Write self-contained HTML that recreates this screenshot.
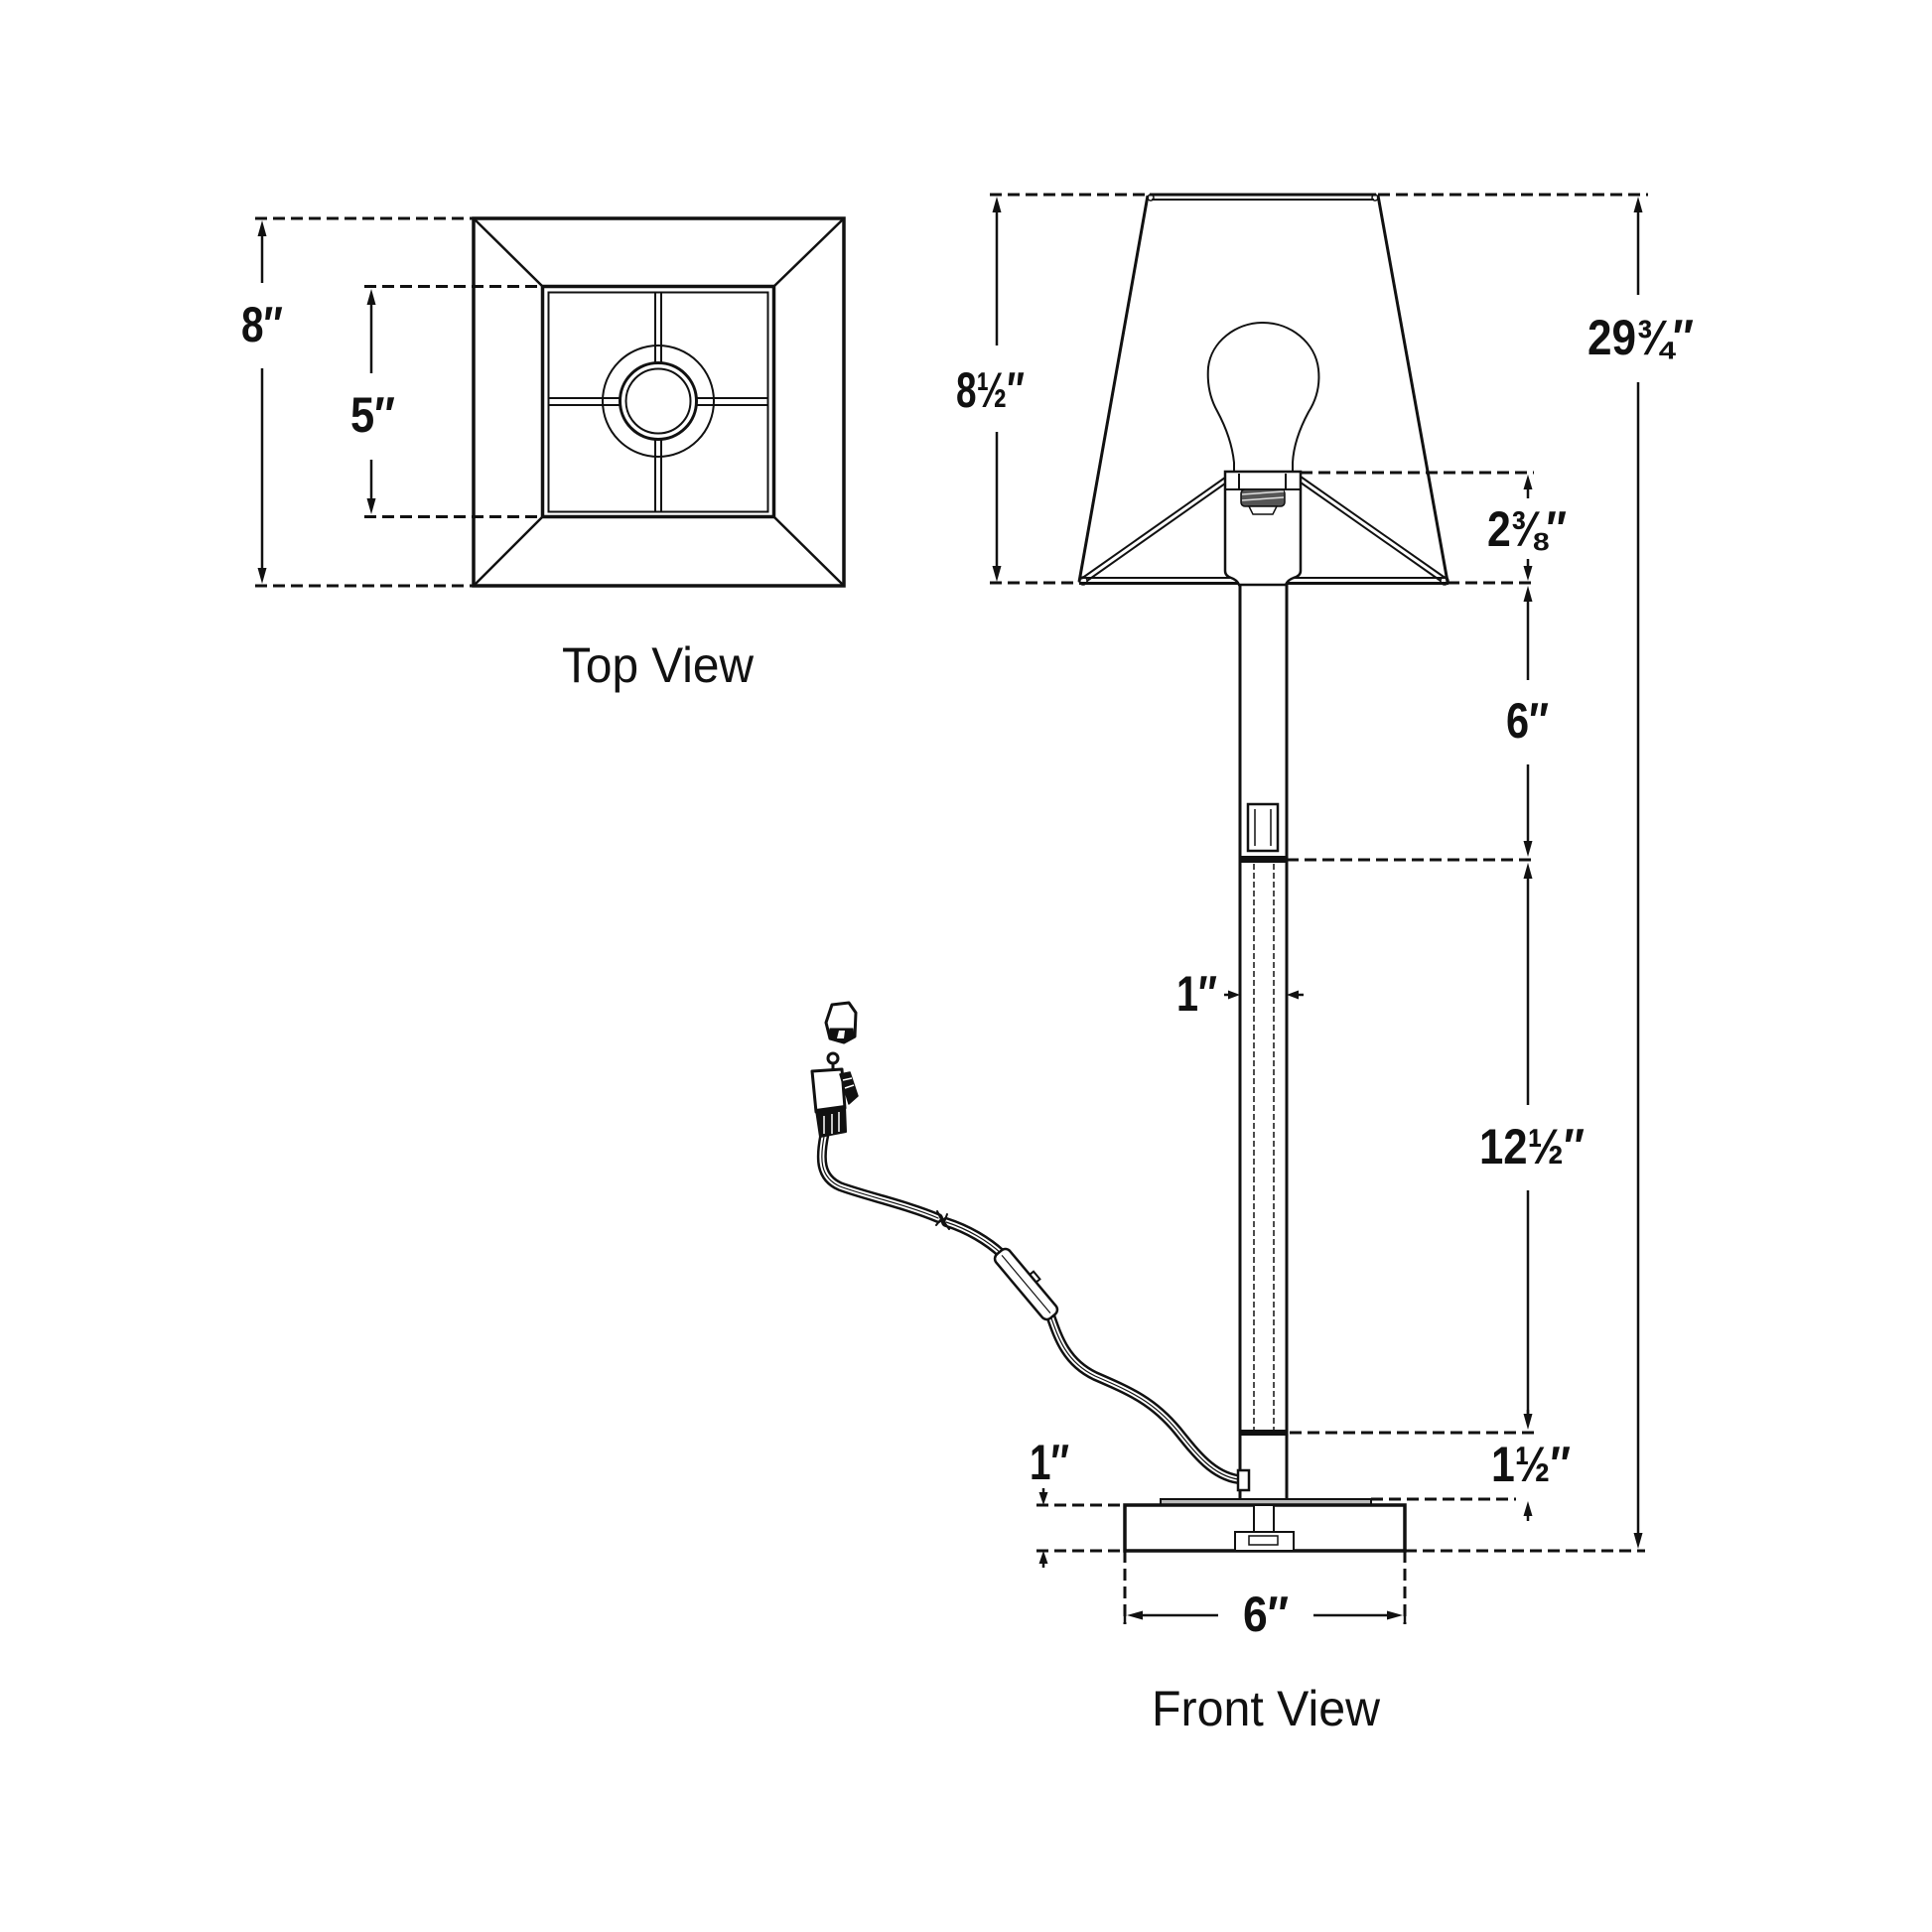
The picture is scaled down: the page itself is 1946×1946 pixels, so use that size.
<!DOCTYPE html>
<html>
<head>
<meta charset="utf-8">
<style>
  html,body{margin:0;padding:0;background:#fff;}
  svg{display:block;}
  .d{font-family:"Liberation Sans","DejaVu Sans",sans-serif;font-weight:bold;font-size:50px;fill:#111;}
  .t{font-family:"Liberation Sans","DejaVu Sans",sans-serif;font-weight:normal;font-size:50px;fill:#111;}
</style>
</head>
<body>
<svg width="1946" height="1946" viewBox="0 0 1946 1946" xmlns="http://www.w3.org/2000/svg">
<rect width="1946" height="1946" fill="#fff"/>

<!-- ================= TOP VIEW ================= -->
<g stroke="#111" fill="none">
  <rect x="477" y="220" width="373" height="370" stroke-width="3.5"/>
  <line x1="477" y1="220" x2="546.5" y2="288.5" stroke-width="2.5"/>
  <line x1="850" y1="220" x2="779.5" y2="288.5" stroke-width="2.5"/>
  <line x1="477" y1="590" x2="546.5" y2="520.5" stroke-width="2.5"/>
  <line x1="850" y1="590" x2="779.5" y2="520.5" stroke-width="2.5"/>
  <rect x="546.5" y="288.5" width="233" height="232" stroke-width="3.5"/>
  <rect x="552.5" y="294.5" width="221" height="221" stroke-width="2"/>
  <line x1="660" y1="294" x2="660" y2="516" stroke-width="2"/>
  <line x1="666" y1="294" x2="666" y2="516" stroke-width="2"/>
  <line x1="552" y1="401" x2="774" y2="401" stroke-width="2"/>
  <line x1="552" y1="408" x2="774" y2="408" stroke-width="2"/>
  <circle cx="663" cy="404" r="56" stroke-width="2"/>
  <circle cx="663" cy="404" r="38.5" stroke-width="3" fill="#fff"/>
  <circle cx="663" cy="404" r="32.5" stroke-width="2"/>
</g>

<g stroke="#111" stroke-width="3" stroke-dasharray="12 6" fill="none">
  <line x1="257" y1="220" x2="477" y2="220"/>
  <line x1="257" y1="590" x2="477" y2="590"/>
  <line x1="367" y1="288.5" x2="546" y2="288.5"/>
  <line x1="367" y1="520.5" x2="546" y2="520.5"/>
</g>
<g stroke="#111" stroke-width="2.5">
  <line x1="264" y1="230" x2="264" y2="285"/>
  <line x1="264" y1="371" x2="264" y2="580"/>
  <line x1="374" y1="298" x2="374" y2="376"/>
  <line x1="374" y1="463" x2="374" y2="511"/>
</g>
<g fill="#111">
  <polygon points="264,222 259.5,238 268.5,238"/>
  <polygon points="264,588 259.5,572 268.5,572"/>
  <polygon points="374,291 369.5,307 378.5,307"/>
  <polygon points="374,518 369.5,502 378.5,502"/>
</g>
<text class="d" x="243" y="344" textLength="42" lengthAdjust="spacingAndGlyphs">8″</text>
<text class="d" x="353" y="435" textLength="45" lengthAdjust="spacingAndGlyphs">5″</text>
<text class="t" x="566" y="687" textLength="193" lengthAdjust="spacingAndGlyphs">Top View</text>

<!-- ================= FRONT VIEW ================= -->
<g stroke="#111" stroke-width="3" stroke-dasharray="12 6" fill="none">
  <line x1="997" y1="196" x2="1156" y2="196"/>
  <line x1="1388" y1="196" x2="1660" y2="196"/>
  <line x1="997" y1="587" x2="1087" y2="587"/>
  <line x1="1458" y1="587" x2="1545" y2="587"/>
  <line x1="1310" y1="476" x2="1545" y2="476"/>
  <line x1="1296" y1="866" x2="1545" y2="866"/>
  <line x1="1299" y1="1443" x2="1545" y2="1443"/>
  <line x1="1381" y1="1510" x2="1527" y2="1510"/>
  <line x1="1044" y1="1516" x2="1133" y2="1516"/>
  <line x1="1044" y1="1562" x2="1133" y2="1562"/>
  <line x1="1415" y1="1562" x2="1657" y2="1562"/>
  <line x1="1133" y1="1562" x2="1133" y2="1636"/>
  <line x1="1415" y1="1562" x2="1415" y2="1636"/>
</g>

<!-- shade -->
<g stroke="#111" fill="none">
  <line x1="1156" y1="197" x2="1087" y2="586" stroke-width="3"/>
  <line x1="1388" y1="197" x2="1458" y2="586" stroke-width="3"/>
  <line x1="1158" y1="196" x2="1386" y2="196" stroke-width="3"/>
  <line x1="1160" y1="201" x2="1384" y2="201" stroke-width="2"/>
  <circle cx="1159" cy="199" r="3" stroke-width="1.5"/>
  <circle cx="1385" cy="199" r="3" stroke-width="1.5"/>
  <line x1="1090" y1="582" x2="1456" y2="582" stroke-width="2"/>
  <line x1="1087" y1="587.5" x2="1459" y2="587.5" stroke-width="3"/>
  <circle cx="1091" cy="585" r="4" stroke-width="1.5"/>
  <circle cx="1455" cy="585" r="4" stroke-width="1.5"/>
  <line x1="1234" y1="481" x2="1089" y2="583" stroke-width="2"/>
  <line x1="1234" y1="487" x2="1095" y2="585" stroke-width="2"/>
  <line x1="1310" y1="480" x2="1457" y2="583" stroke-width="2"/>
  <line x1="1310" y1="486" x2="1451" y2="585" stroke-width="2"/>
</g>

<!-- bulb -->
<path d="M1243,476 L1243,466 C1241,446 1233,427 1226,414 C1217,398 1216,383 1217,370 C1220,344 1245,325 1272,325 C1300,325 1325,345 1328,372 C1330,390 1325,404 1318,415 C1311,428 1303,446 1302,466 L1302,476" fill="#fff" stroke="#111" stroke-width="2"/>

<!-- socket -->
<g stroke="#111" fill="#fff">
  <path d="M1234,475 L1310,475 L1310,575 Q1310,580 1303,582 Q1297,584 1295,589 L1248,589 Q1246,584 1240,582 Q1234,580 1234,575 Z" stroke-width="2.5"/>
  <line x1="1234" y1="493" x2="1310" y2="493" stroke-width="2"/>
  <line x1="1248" y1="477" x2="1248" y2="493" stroke-width="2"/>
  <line x1="1295" y1="477" x2="1295" y2="493" stroke-width="2"/>
  <rect x="1250" y="493" width="44" height="17" rx="4" fill="#555" stroke-width="1.5"/>
  <line x1="1251" y1="498" x2="1293" y2="495" stroke="#ddd" stroke-width="1.5"/>
  <line x1="1251" y1="504" x2="1293" y2="501" stroke="#ddd" stroke-width="1.5"/>
  <path d="M1258,510 L1286,510 L1282,518 L1262,518 Z" stroke-width="1.5"/>
</g>

<!-- stem -->
<g stroke="#111" fill="none">
  <line x1="1249" y1="589" x2="1249" y2="1510" stroke-width="3"/>
  <line x1="1296" y1="589" x2="1296" y2="1510" stroke-width="3"/>
  <rect x="1257" y="810" width="30" height="47" stroke-width="2.5" fill="#fff"/>
  <line x1="1264" y1="815" x2="1264" y2="852" stroke-width="1.5"/>
  <line x1="1280" y1="815" x2="1280" y2="852" stroke-width="1.5"/>
  <line x1="1263" y1="870" x2="1263" y2="1440" stroke-width="1.5" stroke-dasharray="6 3"/>
  <line x1="1283" y1="870" x2="1283" y2="1440" stroke-width="1.5" stroke-dasharray="6 3"/>
</g>
<rect x="1249" y="862" width="47" height="7" fill="#111"/>
<rect x="1249" y="1440" width="47" height="6" fill="#111"/>

<!-- base -->
<g stroke="#111">
  <rect x="1169" y="1510" width="212" height="6" fill="#bbb" stroke-width="2"/>
  <rect x="1133" y="1516" width="282" height="46" fill="none" stroke-width="3.5"/>
  <rect x="1263" y="1516" width="20" height="27" fill="#fff" stroke-width="2"/>
  <rect x="1244" y="1543" width="59" height="19" fill="#fff" stroke-width="2"/>
  <rect x="1258" y="1547" width="29" height="9" fill="#fff" stroke-width="1.5"/>
</g>

<!-- cord -->
<g fill="none" stroke-linecap="round" stroke-linejoin="round">
  <path d="M831,1140 C825,1168 826,1186 846,1195 C870,1204 915,1214 945,1227" stroke="#111" stroke-width="10"/>
  <path d="M831,1140 C825,1168 826,1186 846,1195 C870,1204 915,1214 945,1227" stroke="#fff" stroke-width="5"/>
  <path d="M831,1140 C825,1168 826,1186 846,1195 C870,1204 915,1214 945,1227" stroke="#111" stroke-width="1.2"/>
  <path d="M953,1231 C975,1238 995,1250 1009,1263" stroke="#111" stroke-width="10"/>
  <path d="M953,1231 C975,1238 995,1250 1009,1263" stroke="#fff" stroke-width="5"/>
  <path d="M953,1231 C975,1238 995,1250 1009,1263" stroke="#111" stroke-width="1.2"/>
  <path d="M1058,1325 C1066,1348 1074,1372 1103,1386 C1140,1402 1162,1412 1186,1441 C1206,1466 1222,1486 1247,1490" stroke="#111" stroke-width="10"/>
  <path d="M1058,1325 C1066,1348 1074,1372 1103,1386 C1140,1402 1162,1412 1186,1441 C1206,1466 1222,1486 1247,1490" stroke="#fff" stroke-width="5"/>
  <path d="M1058,1325 C1066,1348 1074,1372 1103,1386 C1140,1402 1162,1412 1186,1441 C1206,1466 1222,1486 1247,1490" stroke="#111" stroke-width="1.2"/>
  <path d="M944,1220 L948,1228 L943,1234" stroke="#111" stroke-width="2"/>
  <path d="M954,1223 L951,1231 L956,1238" stroke="#111" stroke-width="2"/>
</g>
<g transform="translate(1033.5,1293.5) rotate(50)" stroke="#111" fill="#fff">
  <rect x="-5" y="-14" width="10" height="6" stroke-width="2"/>
  <rect x="-42" y="-9" width="84" height="18" rx="6" stroke-width="2.5"/>
  <line x1="-38" y1="0" x2="38" y2="0" stroke-width="1.2"/>
</g>
<rect x="1247" y="1481" width="11" height="20" fill="#fff" stroke="#111" stroke-width="2.5"/>

<!-- plug -->
<g stroke="#111" stroke-linejoin="round">
  <polygon points="838,1012 855,1010 862,1020 861,1044 850,1050 836,1046 832,1030" fill="#fff" stroke-width="3"/>
  <polygon points="836,1036 859,1036 860,1044 850,1050 836,1046" fill="#111" stroke-width="1"/>
  <polygon points="845,1038 851,1038 850,1046 843,1046" fill="#fff" stroke="none"/>
  <circle cx="839" cy="1066" r="5" fill="#fff" stroke-width="3"/>
  <line x1="839" y1="1071" x2="839" y2="1078" stroke-width="3"/>
  <polygon points="818,1079 848,1077 851,1116 822,1120" fill="#fff" stroke-width="3"/>
  <polygon points="846,1082 856,1080 864,1104 855,1112" fill="#111" stroke-width="1.5"/>
  <line x1="849" y1="1088" x2="858" y2="1086" stroke="#fff" stroke-width="1.5"/>
  <line x1="851" y1="1096" x2="860" y2="1093" stroke="#fff" stroke-width="1.5"/>
  <polygon points="822,1118 851,1114 852,1140 826,1145" fill="#111" stroke-width="2"/>
  <line x1="830" y1="1124" x2="830" y2="1142" stroke="#fff" stroke-width="1.5"/>
  <line x1="838" y1="1122" x2="838" y2="1142" stroke="#fff" stroke-width="1.5"/>
  <line x1="845" y1="1120" x2="845" y2="1140" stroke="#fff" stroke-width="1.5"/>
</g>

<!-- front view dimension lines -->
<g stroke="#111" stroke-width="2.5">
  <line x1="1004" y1="210" x2="1004" y2="348"/>
  <line x1="1004" y1="435" x2="1004" y2="575"/>
  <line x1="1650" y1="210" x2="1650" y2="297"/>
  <line x1="1650" y1="385" x2="1650" y2="1550"/>
  <line x1="1539" y1="490" x2="1539" y2="502"/>
  <line x1="1539" y1="563" x2="1539" y2="573"/>
  <line x1="1539" y1="602" x2="1539" y2="685"/>
  <line x1="1539" y1="770" x2="1539" y2="851"/>
  <line x1="1539" y1="881" x2="1539" y2="1113"/>
  <line x1="1539" y1="1199" x2="1539" y2="1428"/>
  <line x1="1539" y1="1420" x2="1539" y2="1430"/>
  <line x1="1539" y1="1524" x2="1539" y2="1532"/>
  <line x1="1233" y1="1002" x2="1240" y2="1002"/>
  <line x1="1305" y1="1002" x2="1313" y2="1002"/>
  <line x1="1051" y1="1499" x2="1051" y2="1506"/>
  <line x1="1051" y1="1572" x2="1051" y2="1579"/>
  <line x1="1147" y1="1627" x2="1227" y2="1627"/>
  <line x1="1323" y1="1627" x2="1401" y2="1627"/>
  <line x1="1133" y1="1619" x2="1133" y2="1636"/>
  <line x1="1415" y1="1619" x2="1415" y2="1636"/>
</g>
<g fill="#111">
  <polygon points="1004,198 999.5,214 1008.5,214"/>
  <polygon points="1004,586 999.5,570 1008.5,570"/>
  <polygon points="1650,198 1645.5,214 1654.5,214"/>
  <polygon points="1650,1560 1645.5,1544 1654.5,1544"/>
  <polygon points="1539,478 1534.5,493 1543.5,493"/>
  <polygon points="1539,585 1534.5,570 1543.5,570"/>
  <polygon points="1539,590 1534.5,606 1543.5,606"/>
  <polygon points="1539,863 1534.5,847 1543.5,847"/>
  <polygon points="1539,869 1534.5,885 1543.5,885"/>
  <polygon points="1539,1440 1534.5,1424 1543.5,1424"/>
  <polygon points="1539,1512 1534.5,1527 1543.5,1527"/>
  <polygon points="1249,1002 1237,997.5 1237,1006.5"/>
  <polygon points="1296,1002 1308,997.5 1308,1006.5"/>
  <polygon points="1051,1516 1046.5,1503 1055.5,1503"/>
  <polygon points="1051,1562 1046.5,1575 1055.5,1575"/>
  <polygon points="1135,1627 1151,1622.5 1151,1631.5"/>
  <polygon points="1413,1627 1397,1622.5 1397,1631.5"/>
</g>

<text class="d" x="963" y="410" textLength="69" lengthAdjust="spacingAndGlyphs">8½″</text>
<text class="d" x="1599" y="357" textLength="107" lengthAdjust="spacingAndGlyphs">29¾″</text>
<text class="d" x="1498" y="550" textLength="80" lengthAdjust="spacingAndGlyphs">2⅜″</text>
<text class="d" x="1517" y="743" textLength="43" lengthAdjust="spacingAndGlyphs">6″</text>
<text class="d" x="1490" y="1172" textLength="106" lengthAdjust="spacingAndGlyphs">12½″</text>
<text class="d" x="1502" y="1492" textLength="80" lengthAdjust="spacingAndGlyphs">1½″</text>
<text class="d" x="1185" y="1018" textLength="41" lengthAdjust="spacingAndGlyphs">1″</text>
<text class="d" x="1037" y="1490" textLength="40" lengthAdjust="spacingAndGlyphs">1″</text>
<text class="d" x="1252" y="1643" textLength="46" lengthAdjust="spacingAndGlyphs">6″</text>
<text class="t" x="1160" y="1738" textLength="230" lengthAdjust="spacingAndGlyphs">Front View</text>
</svg>
</body>
</html>
